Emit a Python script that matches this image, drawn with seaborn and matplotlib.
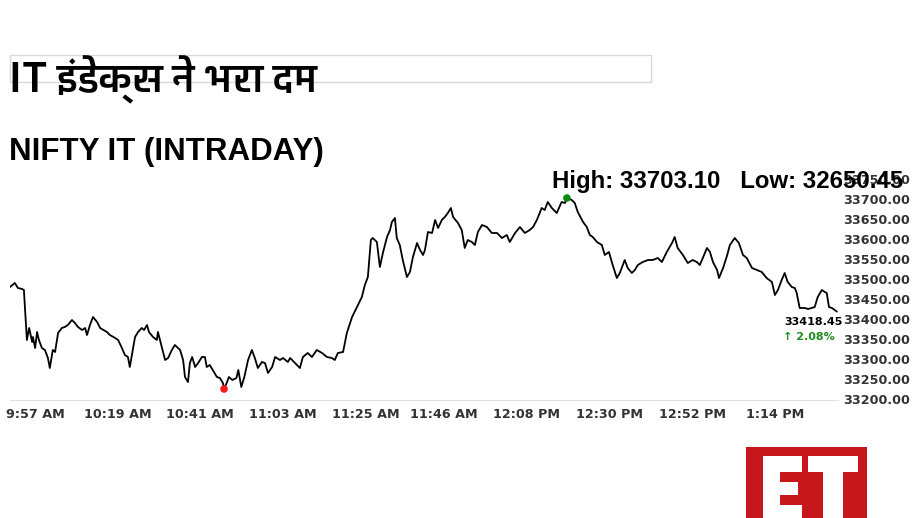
import numpy as np
import pandas as pd
import matplotlib
matplotlib.use("Agg")
import matplotlib.pyplot as plt
import matplotlib.transforms as mtransforms
from matplotlib import font_manager
from matplotlib.patches import Rectangle
import seaborn as sns
from fontTools.ttLib import TTFont

# --- DATA ---
# minutes elapsed since 9:57 AM
minutes = [0.0, 1.3, 2.1, 3.2, 3.7, 4.5, 5.1, 5.9, 6.1, 6.7, 7.2, 7.7, 8.5, 9.3, 10.1, 10.6,
           11.4, 12.0, 12.8, 13.8, 14.6, 15.4, 16.5, 17.3, 18.1, 19.2, 20.0, 20.5, 21.3, 22.1,
           23.2, 24.0, 25.8, 26.6, 28.0, 28.8, 29.8, 30.6, 31.4, 31.9, 32.7, 33.3, 34.1, 35.1,
           35.7, 36.5, 37.0, 38.1, 39.1, 39.4, 40.5, 41.3, 42.1, 43.1, 43.9, 45.3, 46.1, 46.6,
           47.4, 47.9, 48.5, 49.3, 50.1, 51.1, 51.9, 52.4, 53.2, 54.0, 55.1, 55.9, 56.7, 57.0,
           57.8, 58.3, 59.2, 60.3, 60.8, 61.6, 62.4, 63.4, 64.4, 65.2, 66.0, 67.1, 67.9, 68.7,
           69.8, 70.6, 71.9, 72.7, 74.0, 74.6, 75.9, 77.2, 78.0, 79.3, 80.4, 81.7, 83.1, 84.4,
           85.7, 86.5, 87.3, 88.7, 89.7, 91.1, 92.4, 93.7, 94.5, 95.3, 96.1, 96.6, 97.7, 98.5,
           99.3, 100.4, 101.2, 101.7, 102.5, 103.0, 103.8, 104.6, 105.7, 106.5, 107.3, 108.4,
           109.2, 110.0, 110.5, 111.3, 112.4, 113.2, 114.0, 115.0, 115.8, 116.6, 117.4, 118.0,
           119.3, 120.3, 121.1, 121.9, 123.0, 123.8, 124.6, 125.7, 127.0, 128.3, 129.7, 131.0,
           132.3, 133.1, 134.5, 135.8, 137.1, 138.4, 139.3, 140.3, 141.6, 142.4, 143.2, 144.3,
           145.6, 146.9, 147.8, 148.3, 149.6, 150.4, 151.2, 152.6, 153.6, 154.4, 155.2, 156.3,
           157.6, 158.4, 159.5, 160.5, 161.6, 162.4, 163.7, 164.5, 165.6, 166.4, 167.2, 168.5,
           169.9, 171.2, 172.5, 173.6, 174.9, 176.3, 177.0, 177.8, 179.2, 180.5, 181.8, 182.9,
           183.7, 184.5, 185.6, 186.4, 187.2, 188.3, 188.8, 189.9, 191.0, 191.7, 193.0, 194.1,
           195.2, 196.2, 197.6, 198.9, 200.2, 201.5, 202.9, 203.7, 204.5, 205.5, 206.3, 207.1,
           208.2, 209.0, 209.5, 210.3, 211.7, 212.5, 213.5, 214.3, 215.1, 216.2, 217.0, 217.5,
           218.1, 218.9, 220.2]

prices = [33480, 33490, 33477.5, 33475, 33472.5, 33347.5, 33377.5, 33342.5, 33355, 33327.5,
          33367.5, 33347.5, 33327.5, 33322.5, 33302.5, 33277.5, 33322.5, 33317.5, 33365, 33377.5,
          33380, 33385, 33397.5, 33390, 33380, 33372.5, 33377.5, 33360, 33385, 33405,
          33392.5, 33377.5, 33367.5, 33360, 33352.5, 33347.5, 33327.5, 33310, 33305, 33280,
          33322.5, 33355, 33367.5, 33377.5, 33372.5, 33385, 33367.5, 33355, 33347.5, 33367.5,
          33327.5, 33297.5, 33302.5, 33322.5, 33335, 33322.5, 33297.5, 33255, 33242.5, 33290,
          33305, 33280, 33290, 33305, 33305, 33280, 33285, 33272.5, 33255, 33252.5,
          33240, 33225, 33242.5, 33255, 33247.5, 33252.5, 33272.5, 33230, 33255, 33297.5,
          33322.5, 33302.5, 33277.5, 33292.5, 33290, 33265, 33280, 33305, 33297.5, 33302.5,
          33292.5, 33302.5, 33290, 33277.5, 33305, 33315, 33305, 33322.5, 33315, 33305,
          33302.5, 33297.5, 33315, 33317.5, 33365, 33405, 33430, 33455, 33485, 33505,
          33597.5, 33602.5, 33592.5, 33530, 33565, 33605, 33622.5, 33642.5, 33652.5, 33602.5,
          33585, 33547.5, 33505, 33517.5, 33555, 33590, 33572.5, 33560, 33572.5, 33617.5,
          33615, 33647.5, 33627.5, 33647.5, 33655, 33665, 33677.5, 33655, 33640, 33622.5,
          33577.5, 33597.5, 33592.5, 33585, 33617.5, 33635, 33630, 33615, 33615, 33602.5,
          33610, 33592.5, 33615, 33630, 33615, 33622.5, 33630, 33647.5, 33677.5, 33672.5,
          33692.5, 33677.5, 33665, 33692.5, 33690, 33702.5, 33697.5, 33690, 33667.5, 33642.5,
          33630, 33610, 33605, 33592.5, 33585, 33560, 33567.5, 33535, 33502.5, 33515,
          33547.5, 33527.5, 33515, 33522.5, 33535, 33542.5, 33547.5, 33547.5, 33552.5, 33542.5,
          33567.5, 33590, 33605, 33577.5, 33560, 33540, 33547.5, 33542.5, 33535, 33552.5,
          33577.5, 33567.5, 33542.5, 33522.5, 33502.5, 33527.5, 33560, 33585, 33602.5, 33590,
          33560, 33552.5, 33527.5, 33522.5, 33517.5, 33502.5, 33492.5, 33460, 33472.5, 33497.5,
          33515, 33492.5, 33480, 33477.5, 33465, 33427.5, 33427.5, 33425, 33427.5, 33430,
          33455, 33472.5, 33467.5, 33465, 33430, 33427.5, 33418.45]

tick_minutes = [0, 22, 44, 66, 88, 109, 131, 153, 175, 197]
tick_labels = ["9:57 AM", "10:19 AM", "10:41 AM", "11:03 AM", "11:25 AM",
               "11:46 AM", "12:08 PM", "12:30 PM", "12:52 PM", "1:14 PM"]
y_ticks = np.arange(33200, 33751, 50)

title_text = "IT इंडेक्स ने भरा दम"
subtitle_text = "NIFTY IT (INTRADAY)"
high_low_text = "High: 33703.10   Low: 32650.45"
last_value = "33418.45"
change_text = "\u2191 2.08%"

W, H = 921, 518


def find_font(ch, prefer_bold=True):
    """Look for an installed font that has a glyph for ch."""
    cp = ord(ch)
    hits = []
    for f in font_manager.fontManager.ttflist:
        try:
            cmap = TTFont(f.fname, fontNumber=0, lazy=True).getBestCmap()
        except Exception:
            continue
        if cmap and cp in cmap:
            hits.append(f)
    if not hits:
        return None
    if prefer_bold:
        hits.sort(key=lambda f: -(f.weight if isinstance(f.weight, int) else 400))
    return hits[0].name


deva_font = find_font("भ")

sns.set_style("white")
plt.rcParams["font.family"] = ["DejaVu Sans"]

fig = plt.figure(figsize=(W / 100, H / 100), dpi=100)
fig.patch.set_facecolor("white")


def fx(px):
    return px / W


def fy(py):
    return 1 - py / H


# --- top headline box ---
fig.patches.append(Rectangle((fx(10), fy(82)), fx(641), 27 / H, transform=fig.transFigure,
                             facecolor="white", edgecolor="#d8d8d8", lw=1, zorder=0))
title_family = [deva_font, "Liberation Sans", "DejaVu Sans"] if deva_font else ["Liberation Sans", "DejaVu Sans"]
fig.text(fx(9), fy(92), title_text, fontsize=28.5, fontweight="bold", family=title_family,
         ha="left", va="baseline", color="black")
fig.text(fx(9), fy(160), subtitle_text, fontsize=22.5, fontweight="bold",
         family=["Liberation Sans", "DejaVu Sans"], ha="left", va="baseline", color="black")

# --- chart ---
ax = fig.add_axes([fx(10), fy(400), 828 / W, 230 / H])
df = pd.DataFrame({"minute": minutes, "price": prices})
sns.lineplot(data=df, x="minute", y="price", ax=ax, color="black", lw=1.3)

i_hi = int(np.argmax(prices))
i_lo = int(np.argmin(prices))
sns.scatterplot(x=[minutes[i_hi]], y=[prices[i_hi]], ax=ax, color="#0b8a0b", s=30,
                edgecolor="none", zorder=5)
sns.scatterplot(x=[minutes[i_lo]], y=[prices[i_lo]], ax=ax, color="#ff1a1a", s=30,
                edgecolor="none", zorder=5)

ax.set_xlim(0, 220.5)
ax.set_ylim(33197.5, 33772.5)
ax.set_xlabel("")
ax.set_ylabel("")

ax.yaxis.tick_right()
ax.set_yticks(y_ticks)
ax.set_yticklabels([f"{v:.2f}" for v in y_ticks])
ax.tick_params(axis="y", length=0, pad=3.6, labelsize=9.2, labelcolor="#333333")

ax.set_xticks(tick_minutes)
ax.set_xticklabels(tick_labels)
ax.tick_params(axis="x", length=3.5, width=0.8, color="#e2e2e2", pad=2.5,
               labelsize=9.2, labelcolor="#333333")
offset = mtransforms.ScaledTranslation(25 / 100, 0, fig.dpi_scale_trans)
for lab in ax.get_xticklabels():
    lab.set_transform(lab.get_transform() + offset)
for lab in ax.get_xticklabels() + ax.get_yticklabels():
    lab.set_fontweight("bold")

for side in ["top", "left", "right"]:
    ax.spines[side].set_visible(False)
ax.spines["bottom"].set_color("#e2e2e2")
ax.spines["bottom"].set_linewidth(0.8)
ax.grid(False)
ax.patch.set_alpha(0)

# last value annotation
ax.annotate(last_value, xy=(minutes[-1], prices[-1]), xytext=(4.5, -7.5),
            textcoords="offset points", ha="right", va="center", fontsize=8,
            fontweight="bold", color="black")
ax.annotate(change_text, xy=(minutes[-1], prices[-1]), xytext=(-1.5, -18),
            textcoords="offset points", ha="right", va="center", fontsize=8,
            fontweight="bold", color="#1e8c1e")

fig.text(fx(552), fy(188), high_low_text, fontsize=17.3, fontweight="bold",
         family=["Liberation Sans", "DejaVu Sans"],
         ha="left", va="baseline", color="black", zorder=10)

# --- ET logo ---
red = "#c8161d"
fig.patches.append(Rectangle((fx(746), fy(518)), fx(121), 71 / H, transform=fig.transFigure,
                             facecolor=red, edgecolor="none"))
for x0, y0, x1, y1 in [(763, 456, 780, 518), (763, 456, 802, 472), (763, 482, 798, 495),
                       (763, 505, 802, 518), (808, 456, 858, 472), (823, 456, 843, 518)]:
    fig.patches.append(Rectangle((fx(x0), fy(y1)), fx(x1 - x0), (y1 - y0) / H,
                                 transform=fig.transFigure, facecolor="white", edgecolor="none"))

fig.savefig("out.png", dpi=100, facecolor="white")
